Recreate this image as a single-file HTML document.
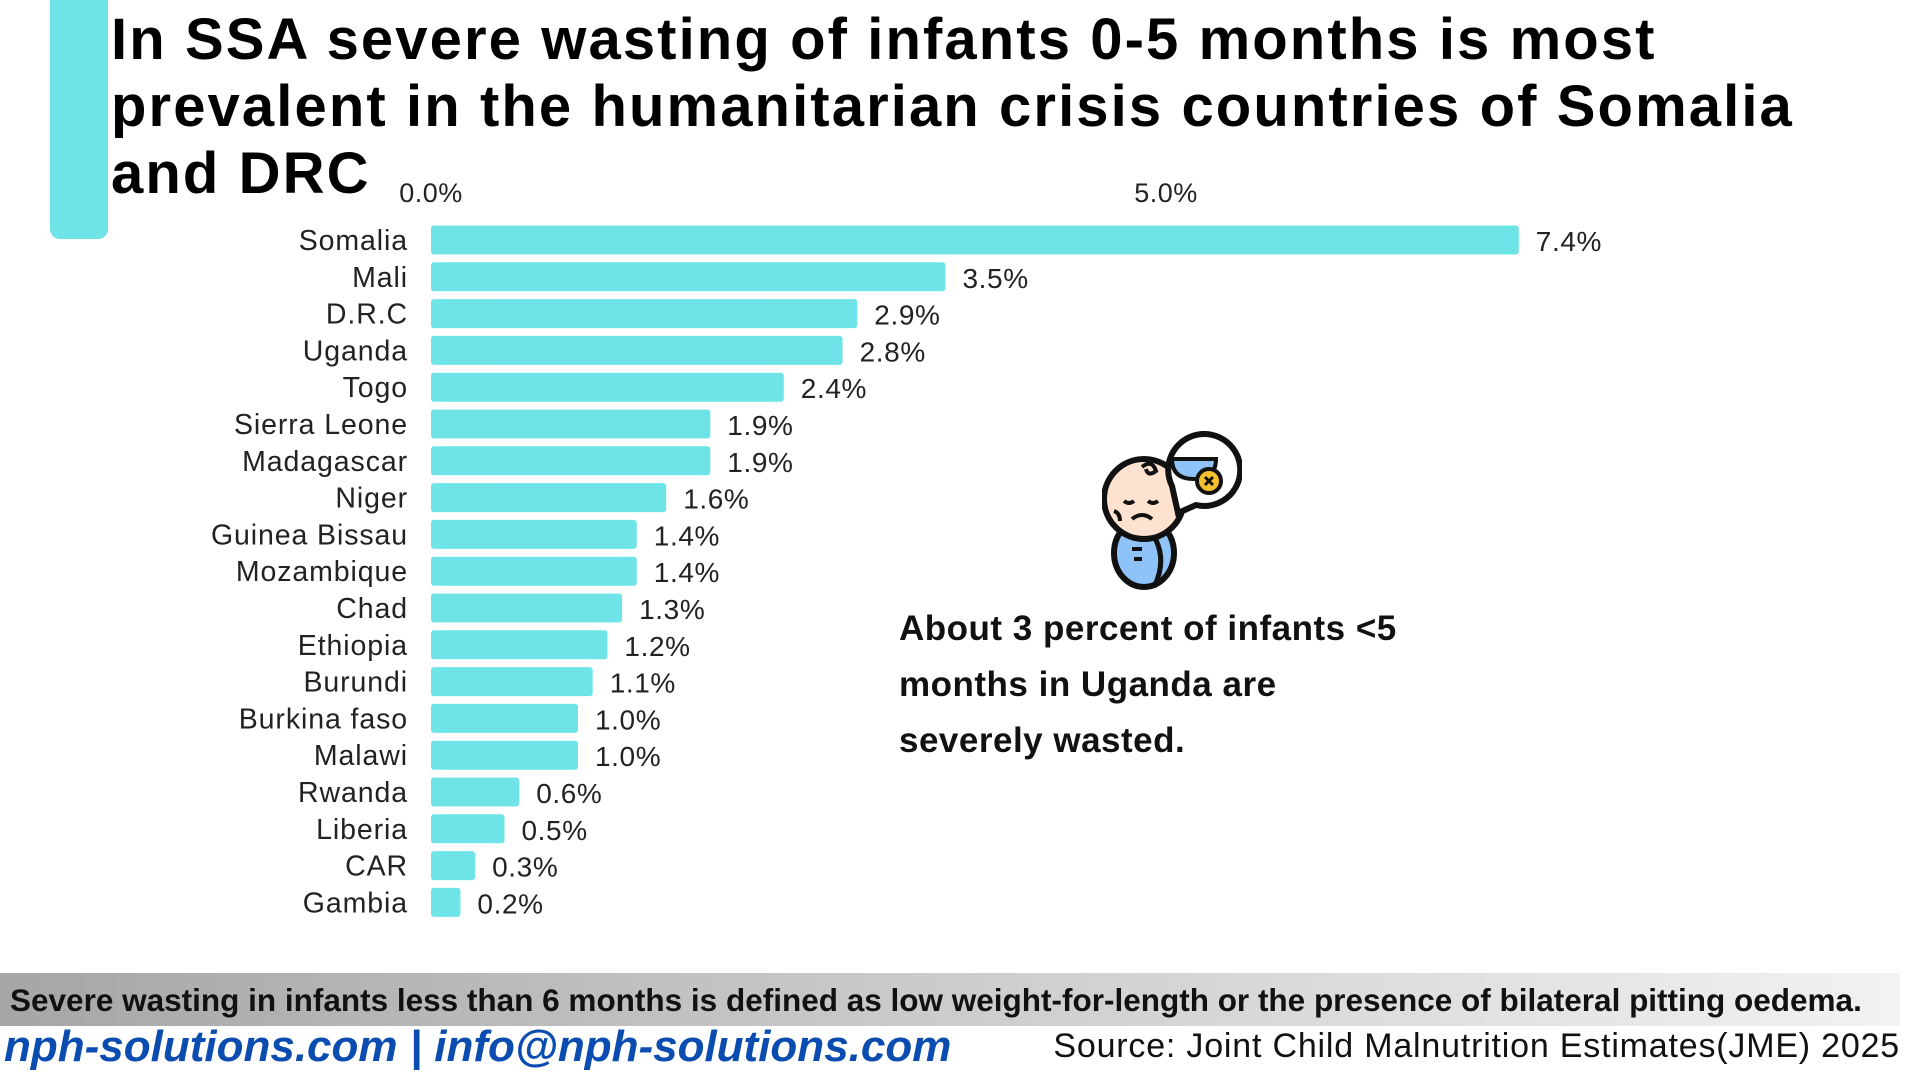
<!DOCTYPE html>
<html><head><meta charset="utf-8"><style>
body{margin:0;width:1920px;height:1080px;background:#fff;position:relative;overflow:hidden;font-family:"Liberation Sans",sans-serif;}
#accent{position:absolute;left:50px;top:0;width:58px;height:239px;background:#6ee3e8;border-radius:0 0 10px 10px;}
#title{position:absolute;left:111px;top:6px;font-size:58px;font-weight:bold;line-height:67px;color:#000;margin:0;white-space:nowrap;letter-spacing:2.1px;}
#chart{position:absolute;left:0;top:0;}
#note{position:absolute;left:899px;top:601px;font-size:35px;font-weight:bold;line-height:56px;color:#111;letter-spacing:0.5px;}
#band{position:absolute;left:0;top:973px;width:1900px;height:53px;background:linear-gradient(90deg,#a6a6a6,#f2f2f2);}
#band span{position:absolute;left:10px;top:9px;font-family:"Liberation Sans Narrow","Liberation Sans",sans-serif;font-weight:bold;font-size:31.5px;color:#111;white-space:nowrap;}
#site{position:absolute;left:4px;top:1022px;font-size:44px;font-weight:bold;font-style:italic;color:#0b4cb0;font-family:"Liberation Sans Narrow","Liberation Sans",sans-serif;white-space:nowrap;}
#source{position:absolute;right:20px;top:1027px;font-size:34px;color:#111;font-family:"Liberation Sans Narrow","Liberation Sans",sans-serif;letter-spacing:0.8px;white-space:nowrap;}
</style></head><body>
<div id="accent"></div>
<h1 id="title">In SSA severe wasting of infants 0-5 months is most<br>prevalent in the humanitarian crisis countries of Somalia<br>and DRC</h1>
<svg id="chart" width="1920" height="960"></svg>
<svg style="position:absolute;left:1102px;top:431px" width="140" height="160" viewBox="0 0 140 160">
<ellipse cx="42" cy="122" rx="30" ry="34" fill="#8fc3f7" stroke="#111" stroke-width="6"/>
<path d="M40 90 Q70 120 52 156" fill="none" stroke="#111" stroke-width="5"/>
<line x1="30" y1="118" x2="40" y2="118" stroke="#111" stroke-width="4"/><line x1="32" y1="128" x2="40" y2="128" stroke="#111" stroke-width="4"/>
<circle cx="42" cy="68" r="40" fill="#fde2cf" stroke="#111" stroke-width="6"/>
<path d="M40 36 q10 -8 14 4 q-8 6 -10 -2" fill="none" stroke="#111" stroke-width="4"/>
<path d="M22 70 q5 4 10 0 M46 70 q5 4 10 0 M30 88 q10 -8 20 0 M12 80 q6 2 6 10" fill="none" stroke="#111" stroke-width="4"/>
<path d="M70 55 A36 36 0 1 1 94 74 L76 82 Z" fill="#fff" stroke="#111" stroke-width="6"/>
<path d="M70 28 h44 q0 20 -22 20 q-22 0 -22 -20z" fill="#8fc3f7" stroke="#111" stroke-width="4"/>
<circle cx="107" cy="50" r="12" fill="#f5c12e" stroke="#111" stroke-width="4"/>
<path d="M103 46 l8 8 M111 46 l-8 8" stroke="#111" stroke-width="3"/>
</svg>
<div id="note">About 3 percent of infants &lt;5<br>months in Uganda are<br>severely wasted.</div>
<div id="band"><span>Severe wasting in infants less than 6 months is defined as low weight-for-length or the presence of bilateral pitting oedema.</span></div>
<div id="site">nph-solutions.com | info@nph-solutions.com</div>
<div id="source">Source: Joint Child Malnutrition Estimates(JME) 2025</div>
<script>
const categories=["Somalia","Mali","D.R.C","Uganda","Togo","Sierra Leone","Madagascar","Niger","Guinea Bissau","Mozambique","Chad","Ethiopia","Burundi","Burkina faso","Malawi","Rwanda","Liberia","CAR","Gambia"];
const values=[7.4,3.5,2.9,2.8,2.4,1.9,1.9,1.6,1.4,1.4,1.3,1.2,1.1,1.0,1.0,0.6,0.5,0.3,0.2];
const ticks=[0,5];
const NS="http://www.w3.org/2000/svg";
const svg=document.getElementById('chart');
const x0=431,pxPer=147,y0=240,step=36.8,bh=29;
const xs=v=>x0+v*pxPer, ys=i=>y0+i*step;
function mk(t,a,txt){const e=document.createElementNS(NS,t);for(const k in a)e.setAttribute(k,a[k]);if(txt!==undefined)e.textContent=txt;svg.appendChild(e);return e;}
ticks.forEach(t=>{
 const e=mk('text',{x:xs(t),y:202,'text-anchor':'middle','font-size':27,fill:'#222','font-family':'Liberation Sans','letter-spacing':'0.5'},t.toFixed(1)+'%');
 
 
});
categories.forEach((c,i)=>{
 const y=ys(i);
 const r=mk('rect',{x:xs(0),y:y-bh/2,width:xs(values[i])-xs(0),height:bh,rx:3,fill:'#6ee3e8'});
 
 
 const l=mk('text',{x:408,y:y+10,'text-anchor':'end','font-size':28.5,fill:'#222','font-family':'Liberation Sans','letter-spacing':'0.9'},c);
 
 
 const v=mk('text',{x:xs(values[i])+17,y:y+11,'font-size':28,fill:'#222','font-family':'Liberation Sans','letter-spacing':'0.6'},values[i].toFixed(1)+'%');
 
 
});
</script>
</body></html>
